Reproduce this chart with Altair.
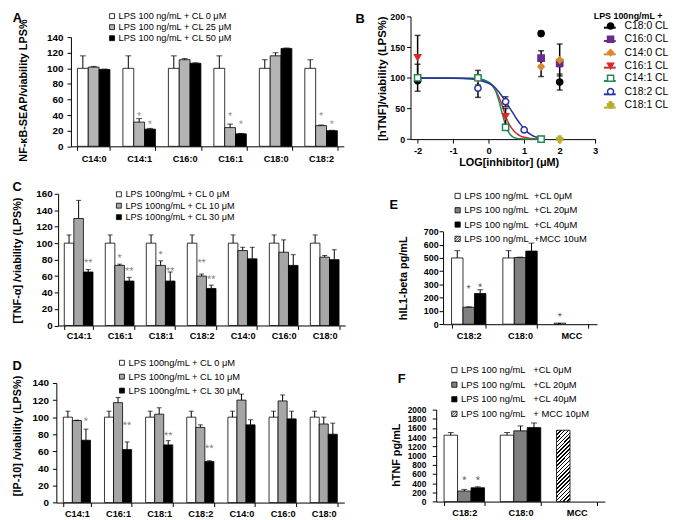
import altair as alt
import pandas as pd

FONT = "Liberation Sans"

# ---------------- Panel A ----------------
A_GROUPS = ["C14:0", "C14:1", "C16:0", "C16:1", "C18:0", "C18:2"]
A_SERIES = ["LPS 100 ng/mL + CL 0 μM", "LPS 100 ng/mL + CL 25 μM", "LPS 100 ng/mL + CL 50 μM"]
A_CL0 = [100, 100, 100, 100, 100, 100]
A_CL0_ERR = [16, 16, 16, 16, 11, 11]
A_CL25 = [101.5, 31, 111, 24, 116, 26.5]
A_CL25_ERR = [1, 4.5, 1.5, 4.5, 4, 0.8]
A_CL50 = [98.5, 22, 106.5, 16, 125.5, 20]
A_CL50_ERR = [0.5, 1, 0.5, 0.5, 0.5, 0.5]
A_STAR_GROUP = ["C14:1", "C14:1", "C16:1", "C16:1", "C18:2", "C18:2"]
A_STAR_SLOT = [1, 2, 1, 2, 1, 2]
A_STAR_Y = [42, 31.5, 42, 31.5, 42, 31.5]
A_STAR_TEXT = ["*", "*", "*", "*", "*", "*"]

# ---------------- Panel B ----------------
B_SERIES = ["C18:0 CL", "C16:0 CL", "C14:0 CL", "C16:1 CL", "C14:1 CL", "C18:2 CL", "C18:1 CL"]
B_STROKES = ["#000000", "#6a2a8c", "#d98a2b", "#d42a2a", "#1e8a55", "#2333a6", "#b8ae2e"]
B_FILLS = ["#000000", "#6a2a8c", "#d98a2b", "#d42a2a", "#ffffff", "#ffffff", "#b8ae2e"]
B_SHAPES = ["circle", "square", "diamond", "triangle-down", "square", "circle", "cross"]
B_PT_SERIES = ["C18:0 CL", "C18:0 CL", "C18:0 CL", "C16:0 CL", "C16:0 CL", "C14:0 CL", "C14:0 CL",
               "C16:1 CL", "C16:1 CL", "C16:1 CL", "C16:1 CL", "C14:1 CL", "C14:1 CL", "C14:1 CL",
               "C14:1 CL", "C18:2 CL", "C18:2 CL", "C18:2 CL", "C18:1 CL"]
B_PT_X = [-2, 1.477, 2, 1.477, 2, 1.477, 2, -2, -0.301, 0.477, 1.477, -2, -0.301, 0.477, 1.477,
          -0.301, 0.477, 1.0, 2]
B_PT_Y = [95, 172, 93, 132, 124, 118, 129, 133, 97, 37, 0, 100, 100, 19, 0, 83, 61, 15, 0]
B_PT_ERR = [0, 4, 13, 12, 6, 16, 26, 36, 0, 13, 0, 22, 12, 3, 0, 15, 8, 2, 0]
B_CURVE_X = [-2, -1, -0.5, -0.3, 0, 0.1, 0.2, 0.3, 0.4, 0.5, 0.6, 0.7, 0.8, 0.9, 1.0, 1.1, 1.2, 1.3, 1.4, 1.5]
B_CURVE_C141 = [99.5, 99.5, 99.2, 98.8, 93, 88, 78, 60, 38, 18, 8, 3, 1.2, 0.5, 0.2, 0.1, 0, 0, 0, 0]
B_CURVE_C161 = [99.5, 99.4, 99, 98, 92, 87, 79, 67, 52, 34, 22, 14, 8.5, 5, 3, 1.8, 1.1, 0.6, 0.3, 0.2]
B_CURVE_C182 = [99.5, 99.3, 98, 96.5, 91, 88, 83, 76, 68, 59, 50, 41, 32, 24, 17, 11, 7, 4, 2.5, 1.5]

# ---------------- Panel C ----------------
C_GROUPS = ["C14:1", "C16:1", "C18:1", "C18:2", "C14:0", "C16:0", "C18:0"]
C_SERIES = ["LPS 100ng/mL + CL 0 μM", "LPS 100ng/mL + CL 10 μM", "LPS 100ng/mL + CL 30 μM"]
C_CL0 = [100, 100, 100, 100, 100, 100, 100]
C_CL0_ERR = [10, 10, 10, 10, 10, 10, 10]
C_CL10 = [130, 73, 73, 60, 91, 89, 83]
C_CL10_ERR = [22, 1.5, 5.5, 2.5, 4, 15, 2]
C_CL30 = [65, 54, 54, 45, 81, 73, 80]
C_CL30_ERR = [3, 4.5, 11, 4, 14, 13, 12]
C_STAR_GROUP = ["C14:1", "C16:1", "C16:1", "C18:1", "C18:1", "C18:2", "C18:2"]
C_STAR_SLOT = [2, 1, 2, 1, 2, 1, 2]
C_STAR_Y = [79, 85, 69, 89, 69, 79, 59]
C_STAR_TEXT = ["**", "*", "**", "*", "**", "**", "**"]

# ---------------- Panel D ----------------
D_GROUPS = ["C14:1", "C16:1", "C18:1", "C18:2", "C14:0", "C16:0", "C18:0"]
D_SERIES = ["LPS 100ng/mL + CL 0 μM", "LPS 100ng/mL + CL 10 μM", "LPS 100ng/mL + CL 30 μM"]
D_CL0 = [100, 100, 100, 100, 100, 100, 100]
D_CL0_ERR = [7, 7, 7, 7, 7, 7, 7]
D_CL10 = [96, 117, 103.5, 88, 120, 119, 92]
D_CL10_ERR = [0.5, 6, 7.5, 3, 7, 7, 8]
D_CL30 = [73, 62, 67.5, 48, 91, 98, 80]
D_CL30_ERR = [13, 9, 5, 1, 6, 9, 13]
D_STAR_GROUP = ["C14:1", "C16:1", "C18:1", "C18:2"]
D_STAR_SLOT = [2, 2, 2, 2]
D_STAR_Y = [98, 93, 81, 66]
D_STAR_TEXT = ["*", "**", "**", "**"]

# ---------------- Panel E ----------------
NB = "\u00a0"
E_GROUPS = ["C18:2", "C18:0", "MCC"]
E_CL_GROUPS = ["C18:2", "C18:0"]
E_SERIES = ["LPS 100 ng/mL" + NB * 2 + "+CL 0μM", "LPS 100 ng/mL" + NB * 2 + "+CL 20μM",
            "LPS 100 ng/mL" + NB * 2 + "+CL 40μM", "LPS 100 ng/mL" + NB * 2 + "+MCC 10uM"]
E_CL0 = [500, 500]
E_CL0_ERR = [55, 55]
E_CL20 = [128, 503]
E_CL20_ERR = [3, 3]
E_CL40 = [232, 552]
E_CL40_ERR = [28, 60]
E_MCC = [8]
E_STAR_GROUP = ["C18:2", "C18:2", "MCC"]
E_STAR_SLOT = [1, 2, 0]
E_STAR_Y = [285, 297, 74]
E_STAR_TEXT = ["*", "*", "*"]

# ---------------- Panel F ----------------
F_GROUPS = ["C18:2", "C18:0", "MCC"]
F_CL_GROUPS = ["C18:2", "C18:0"]
F_SERIES = ["LPS 100 ng/mL" + NB * 3 + "+CL 0μM", "LPS 100 ng/mL" + NB * 3 + "+CL 20μM",
            "LPS 100 ng/mL" + NB * 3 + "+CL 40μM", "LPS 100 ng/mL" + NB * 3 + "+ MCC 10μM"]
F_CL0 = [1443, 1443]
F_CL0_ERR = [57, 57]
F_CL20 = [229, 1537]
F_CL20_ERR = [35, 107]
F_CL40 = [300, 1608]
F_CL40_ERR = [21, 100]
F_MCC = [1550]
F_STAR_GROUP = ["C18:2", "C18:2"]
F_STAR_SLOT = [1, 2]
F_STAR_Y = [514, 514]
F_STAR_TEXT = ["*", "*"]

HATCH_PATH = "M-1,-1H1V1H-1Z M-1,0L0,-1 M-1,1L1,-1 M0,1L1,0"


def bars_df(groups, series, vals, errs):
    rows = []
    for s, vl, el in zip(series, vals, errs):
        for g, v, e in zip(groups, vl, el):
            rows.append({"group": g, "series": s, "value": v, "err": e, "top": v + e})
    return pd.DataFrame(rows)


def stars_df(groups, slots, ys, texts, series):
    return pd.DataFrame({"group": groups, "series": [series[i] for i in slots], "y": ys, "text": texts})


def hatch(gx, gy, n, frac):
    stops = []
    for k in range(n):
        a = k / n
        b = (k + frac) / n
        c = (k + 1) / n
        stops += [alt.GradientStop(color="black", offset=a), alt.GradientStop(color="black", offset=b),
                  alt.GradientStop(color="white", offset=b), alt.GradientStop(color="white", offset=c)]
    return alt.LinearGradient(gradient="linear", stops=stops, x1=0, y1=0, x2=gx, y2=gy)


def x_axis(letter, tx, ty, pad, offset=0):
    return alt.Axis(title=letter, titleX=tx, titleY=ty, titleAngle=0, titleAlign="center",
                    titleBaseline="alphabetic", titleFontSize=13, titleFontWeight="bold",
                    labelFontSize=9.3, labelFontWeight="bold", labelPadding=pad, labelAngle=0,
                    tickBand="extent", tickSize=4, offset=offset, labelOverlap=False)


def y_axis(title, values, tx, ty, lsize, pad, offset=0, tsize=11):
    return alt.Axis(title=title, values=values, titleX=tx, titleY=ty, titleAngle=270, titleAlign="center",
                    titleBaseline="middle", titleFontSize=tsize, titleFontWeight="bold",
                    labelFontSize=lsize, labelFontWeight="bold", labelPadding=pad, tickSize=4,
                    offset=offset, labelOverlap=False, labelFlush=False, format="d")


def bar_legend(lx, ly, fsize, rpad, symtype="square", ssize=25):
    kw = dict(title=None, orient="none", legendX=lx, legendY=ly, direction="vertical",
              labelFont=FONT, labelFontSize=fsize, labelColor="black", rowPadding=rpad,
              labelOffset=2, symbolSize=ssize, symbolStrokeColor="black", symbolStrokeWidth=0.8,
              padding=0)
    if symtype:
        kw["symbolType"] = symtype
    return alt.Legend(**kw)


def bar_panel(df, stars, groups, slots, fill_domain, fill_range, geo, xaxis, yaxis, legend,
              star_color, star_size, cap, mcc=None, hatch_fill=None, shapes=None):
    xs = alt.Scale(domain=groups, range=geo["xr"], paddingInner=geo["pi"], paddingOuter=geo["po"])
    xo = alt.Scale(domain=slots)
    ys = alt.Scale(domain=geo["ydom"], range=geo["yr"], nice=False)

    def X():
        return alt.X("group:N", scale=xs, sort=groups, axis=xaxis, title=xaxis.title)

    def XO():
        return alt.XOffset("series:N", scale=xo, sort=slots)

    def Y(f):
        return alt.Y(f + ":Q", scale=ys, axis=yaxis, title=yaxis.title)

    fill = alt.Fill("series:N", scale=alt.Scale(domain=fill_domain, range=fill_range), legend=legend)
    layers = [alt.Chart(df).mark_bar(stroke="black", strokeWidth=0.8).encode(
        x=X(), xOffset=XO(), y=Y("value"), fill=fill)]
    if mcc is not None:
        layers.append(alt.Chart(mcc).mark_bar(fill=hatch_fill, stroke="black", strokeWidth=0.8).encode(
            x=X(), xOffset=XO(), y=Y("value")))
    e = df[df["err"] > 0]
    layers.append(alt.Chart(e).mark_rule(color="black", strokeWidth=1).encode(
        x=X(), xOffset=XO(), y=Y("value"), y2=alt.Y2("top")))
    layers.append(alt.Chart(e).mark_tick(color="black", thickness=1, size=cap, orient="horizontal").encode(
        x=X(), xOffset=XO(), y=Y("top")))
    layers.append(alt.Chart(stars).mark_text(font=FONT, fontSize=star_size, color=star_color,
                                             baseline="middle", dy=3, angle=0.4).encode(
        x=X(), xOffset=XO(), y=Y("y"), text=alt.Text("text:N")))
    if shapes is not None:
        layers.append(alt.Chart(df).transform_filter("false").mark_point(filled=True, opacity=1).encode(
            x=X(), y=Y("value"), fill=fill,
            shape=alt.Shape("series:N", scale=alt.Scale(domain=fill_domain, range=shapes), legend=legend)))
    return alt.layer(*layers).properties(width=geo["W"], height=geo["H"])


# ---------------- build A ----------------
dfA = bars_df(A_GROUPS, A_SERIES, [A_CL0, A_CL25, A_CL50], [A_CL0_ERR, A_CL25_ERR, A_CL50_ERR])
stA = stars_df(A_STAR_GROUP, A_STAR_SLOT, A_STAR_Y, A_STAR_TEXT, A_SERIES)
geoA = dict(W=292.8, H=131.7, xr=[14.8, 291.4], yr=[131.7, 21.0], pi=0.285, po=0.1425, ydom=[0, 140])
chartA = bar_panel(dfA, stA, A_GROUPS, A_SERIES, A_SERIES, ["white", "#b4b4b4", "black"], geoA,
                   x_axis("A", -39.9, -126.5, 4.5),
                   y_axis("NF-κB-SEAP/viability LPS%", list(range(0, 141, 20)), -48, 74.7, 10, 4, -14.8),
                   bar_legend(51.8, -4.95, 9.3, 1.2), "#909090", 11, 6)

# ---------------- build C ----------------
dfC = bars_df(C_GROUPS, C_SERIES, [C_CL0, C_CL10, C_CL30], [C_CL0_ERR, C_CL10_ERR, C_CL30_ERR])
stC = stars_df(C_STAR_GROUP, C_STAR_SLOT, C_STAR_Y, C_STAR_TEXT, C_SERIES)
geoC = dict(W=292.8, H=143.2, xr=[1.8, 292.8], yr=[133.5, 0], pi=0.30, po=0.15, ydom=[0, 160])
chartC = bar_panel(dfC, stC, C_GROUPS, C_SERIES, C_SERIES, ["white", "#a6a6a6", "black"], geoC,
                   x_axis("C", -40.2, -137.3, 2.3, -9.7),
                   y_axis("[TNF-α] /viability (LPS%)", list(range(0, 161, 20)), -41, 67.2, 10, 2, -1.8),
                   bar_legend(58.8, -4.1, 9.2, 1.6), "#808080", 11, 5)

# ---------------- build D ----------------
dfD = bars_df(D_GROUPS, D_SERIES, [D_CL0, D_CL10, D_CL30], [D_CL0_ERR, D_CL10_ERR, D_CL30_ERR])
stD = stars_df(D_STAR_GROUP, D_STAR_SLOT, D_STAR_Y, D_STAR_TEXT, D_SERIES)
geoD = dict(W=292.8, H=121.2, xr=[0, 291.9], yr=[121.2, 0], pi=0.34, po=0.17, ydom=[0, 140])
chartD = bar_panel(dfD, stD, D_GROUPS, D_SERIES, D_SERIES, ["white", "#a6a6a6", "black"], geoD,
                   x_axis("D", -40.2, -135, 3),
                   y_axis("[IP-10] /viability (LPS%)", list(range(0, 141, 20)), -39.2, 53.2, 10, 4),
                   bar_legend(61.8, -25.2, 9.4, 3.1), "#808080", 11, 5)

# ---------------- build E ----------------
dfE = bars_df(E_CL_GROUPS, E_SERIES[:3], [E_CL0, E_CL20, E_CL40], [E_CL0_ERR, E_CL20_ERR, E_CL40_ERR])
mccE = pd.DataFrame({"group": ["MCC"], "series": [E_SERIES[0]], "value": E_MCC})
stE = stars_df(E_STAR_GROUP, E_STAR_SLOT, E_STAR_Y, E_STAR_TEXT, E_SERIES)
geoE = dict(W=197, H=143.2, xr=[33, 189], yr=[132.2, 38.2], pi=0.33, po=0.165, ydom=[0, 700])
chartE = bar_panel(dfE, stE, E_GROUPS, E_SERIES[:3], E_SERIES, ["white", "#808080", "black", "white"], geoE,
                   x_axis("E", -17.5, -117.5, 3.6, -11),
                   y_axis("hIL1-beta pg/mL", list(range(0, 701, 100)), -40, 85.2, 9, 1, -33),
                   bar_legend(43, -2.55, 9.5, 3.5, symtype=None, ssize=28), "#555555", 11, 6,
                   mcc=mccE, hatch_fill=hatch(1, 1, 3, 0.4),
                   shapes=["square", "square", "square", HATCH_PATH])

# ---------------- build F ----------------
dfF = bars_df(F_CL_GROUPS, F_SERIES[:3], [F_CL0, F_CL20, F_CL40], [F_CL0_ERR, F_CL20_ERR, F_CL40_ERR])
mccF = pd.DataFrame({"group": ["MCC"], "series": [F_SERIES[0]], "value": F_MCC})
stF = stars_df(F_STAR_GROUP, F_STAR_SLOT, F_STAR_Y, F_STAR_TEXT, F_SERIES)
geoF = dict(W=197, H=121.2, xr=[26, 197], yr=[120.2, 26.9], pi=0.28, po=0.14, ydom=[0, 2000])
chartF = bar_panel(dfF, stF, F_GROUPS, F_SERIES[:3], F_SERIES, ["white", "#808080", "black", "white"], geoF,
                   x_axis("F", -9.5, -121, 3, -1),
                   y_axis("hTNF pg/mL", list(range(0, 2001, 200)), -40.5, 72.7, 8.5, 6.5, -26),
                   bar_legend(39.7, -17.85, 9.5, 3.8, symtype=None, ssize=28), "#555555", 11, 6,
                   mcc=mccF, hatch_fill=hatch(0.22, 1.15, 22, 0.4),
                   shapes=["square", "square", "square", HATCH_PATH])

# ---------------- build B ----------------
ptsB = pd.DataFrame({"series": B_PT_SERIES, "x": B_PT_X, "y": B_PT_Y, "err": B_PT_ERR})
ptsB["lo"] = ptsB["y"] - ptsB["err"]
ptsB["hi"] = ptsB["y"] + ptsB["err"]
errB = ptsB[ptsB["err"] > 0]
curve_rows = []
for name, vals in [("C16:1 CL", B_CURVE_C161), ("C14:1 CL", B_CURVE_C141), ("C18:2 CL", B_CURVE_C182)]:
    for xv, yv in zip(B_CURVE_X, vals):
        curve_rows.append({"series_l": name + " ", "x": xv, "y": yv})
curvesB = pd.DataFrame(curve_rows)

bx = alt.Scale(domain=[-2.2, 3], range=[0, 187.2], nice=False, zero=False)
by = alt.Scale(domain=[0, 200], range=[124.4, 0], nice=False)
BX_TITLE = "LOG[inhibitor] (μM)"
BY_TITLE = "[hTNF]/viability (LPS%)"
bx_axis = alt.Axis(title=BX_TITLE, values=[-2, -1, 0, 1, 2, 3], offset=-7.3,
                   titleX=99.5, titleY=23.3, titleAngle=0, titleAlign="center", titleBaseline="middle",
                   titleFontSize=11, titleFontWeight="bold", labelFontSize=9.5, labelFontWeight="bold",
                   labelPadding=2.6, labelFlush=False, labelOverlap=False, labelExpr="datum.value + ''",
                   tickSize=4)
by_axis = alt.Axis(title=BY_TITLE, values=[0, 50, 100, 150, 200], titleX=-28.5,
                   titleY=62.7, titleAngle=270, titleAlign="center", titleBaseline="middle",
                   titleFontSize=11.5, titleFontWeight="bold", labelFontSize=9, labelFontWeight="bold",
                   labelPadding=2, labelOverlap=False, tickSize=4)


def BX(f="x"):
    return alt.X(f + ":Q", scale=bx, axis=bx_axis, title=BX_TITLE)


def BY(f):
    return alt.Y(f + ":Q", scale=by, axis=by_axis, title=BY_TITLE)


line_legend = alt.Legend(title=None, orient="none", legendX=195, legendY=4.45, direction="vertical",
                         symbolType="stroke", symbolSize=144, symbolStrokeWidth=2, labelExpr="''",
                         labelFont=FONT, labelFontSize=10.5, rowPadding=0.5, padding=0)
pt_legend = alt.Legend(title=None, orient="none", legendX=197.5, legendY=4.45, direction="vertical",
                       labelFont=FONT, labelFontSize=10.5, labelColor="black", rowPadding=0.5,
                       labelOffset=9, symbolSize=38, symbolStrokeWidth=1.5, padding=0)

linesB = alt.Chart(curvesB).mark_line(strokeWidth=1.5, interpolate="monotone").encode(
    x=BX(), y=BY("y"),
    color=alt.Color("series_l:N", scale=alt.Scale(domain=[s + " " for s in B_SERIES], range=B_STROKES),
                    legend=line_legend))
rulesB = alt.Chart(errB).mark_rule(color="black", strokeWidth=1.5).encode(
    x=BX(), y=BY("lo"), y2=alt.Y2("hi"))
capHiB = alt.Chart(errB).mark_tick(color="black", thickness=1.5, size=6, orient="horizontal").encode(
    x=BX(), y=BY("hi"))
capLoB = alt.Chart(errB).mark_tick(color="black", thickness=1.5, size=6, orient="horizontal").encode(
    x=BX(), y=BY("lo"))
pointsB = alt.Chart(ptsB).mark_point(filled=True, size=40, strokeWidth=1.5, opacity=1).encode(
    x=BX(), y=BY("y"),
    fill=alt.Fill("series:N", scale=alt.Scale(domain=B_SERIES, range=B_FILLS), legend=pt_legend),
    stroke=alt.Stroke("series:N", scale=alt.Scale(domain=B_SERIES, range=B_STROKES), legend=pt_legend),
    shape=alt.Shape("series:N", scale=alt.Scale(domain=B_SERIES, range=B_SHAPES), legend=pt_legend))
mainB = alt.layer(linesB, rulesB, capHiB, capLoB, pointsB)
invB = alt.Chart(ptsB).mark_point(opacity=0).encode(
    x=alt.X("x:Q", scale=alt.Scale(domain=[-2.2, 3], range=[0, 187.2], nice=False, zero=False),
            axis=alt.Axis(orient="top", title="B", domain=False, ticks=False, labels=False,
                          titleX=-51.5, titleY=5.7, titleAngle=0, titleAlign="center",
                          titleBaseline="alphabetic", titleFontSize=13, titleFontWeight="bold")),
    y=alt.Y("y:Q", scale=alt.Scale(domain=[0, 200], range=[124.4, 0], nice=False),
            axis=alt.Axis(orient="right", title="LPS 100ng/mL +", domain=False, ticks=False, labels=False,
                          titleX=23, titleY=2.2, titleAngle=0, titleAlign="center",
                          titleBaseline="alphabetic", titleFontSize=9, titleFontWeight="bold")))
chartB = alt.layer(mainB, invB).resolve_scale(x="independent", y="independent").properties(
    width=197, height=131.7)

# ---------------- assemble ----------------
chart = alt.concat(chartA, chartB, chartC, chartE, chartD, chartF, columns=2,
                   spacing={"row": 47.8, "column": 66}, bounds="flush", align="each")
chart = chart.resolve_scale(color="independent", fill="independent", stroke="independent",
                            shape="independent", xOffset="independent")
chart = chart.properties(padding={"left": 3, "top": 0, "right": 0, "bottom": 0}, background="white")
chart = chart.configure_view(stroke=None).configure_axis(
    labelFont=FONT, titleFont=FONT, labelColor="black", titleColor="black", tickColor="black",
    domainColor="black", grid=False, tickSize=4, labelFontWeight="bold", titleFontWeight="bold",
    domainWidth=1, tickWidth=1
).configure_legend(labelFont=FONT, titleFont=FONT, labelColor="black", padding=0).configure_text(font=FONT)

chart.save("out.html", embed_options={"renderer": "svg", "actions": False})
